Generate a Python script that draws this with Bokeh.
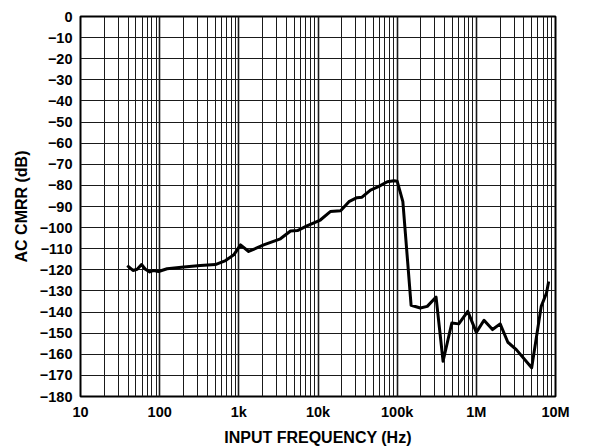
from bokeh.plotting import figure
from bokeh.models import FixedTicker, LogTicker, Range1d
from bokeh.embed import file_html
from bokeh.resources import INLINE

freq = [39, 46, 52, 59, 66, 75, 84, 97, 124, 202, 327, 505, 680, 863, 1050, 1330,
        2060, 3350, 4500, 5500, 7250, 10700, 14300, 19300, 24600, 31000, 36000,
        46000, 58000, 75000, 91000, 100000, 118000, 150000, 196000, 240000, 310000,
        380000, 490000, 600000, 780000, 1000000, 1250000, 1600000, 2000000,
        2500000, 3200000, 5000000, 6600000, 7700000, 8200000]
cmrr = [-118, -120.3, -119.7, -117.5, -119.7, -121, -120.3, -120.8, -119.5, -118.7,
        -118, -117.5, -115.6, -112.9, -108.2, -111.3, -108.2, -105.3, -101.6, -101.4,
        -99.2, -96.4, -92.4, -92, -87.7, -85.8, -85.6, -82.2, -80.6, -78.3, -77.8,
        -78, -87.7, -136.8, -138.1, -137.3, -132.9, -163.3, -145.2, -145.6, -139.7,
        -149.6, -143.9, -148.3, -145.6, -154.3, -157.8, -166.4, -137.3, -131, -125.5]

x_ticks = [10, 100, 1000, 10000, 100000, 1000000, 10000000]
x_labels = ["10", "100", "1k", "10k", "100k", "1M", "10M"]
y_ticks = list(range(-180, 1, 10))
y_labels = [("\u2212" + str(-v)) if v < 0 else "0" for v in y_ticks]

p = figure(width=592, height=448, x_axis_type="log",
           x_range=Range1d(10, 1e7), y_range=Range1d(-180, 0),
           output_backend="svg", toolbar_location=None,
           min_border_left=80, min_border_right=37, min_border_top=16,
           min_border_bottom=51)

p.line(freq, cmrr, line_color="black", line_width=3, line_join="round")

p.xaxis.ticker = LogTicker(desired_num_ticks=7, num_minor_ticks=10)
p.xaxis.major_label_overrides = {t: l for t, l in zip(x_ticks, x_labels)}
p.yaxis.ticker = FixedTicker(ticks=y_ticks)
p.yaxis.major_label_overrides = {t: l for t, l in zip(y_ticks, y_labels)}

for ax in (p.xaxis[0], p.yaxis[0]):
    ax.major_tick_out = 0
    ax.major_tick_in = 0
    ax.minor_tick_out = 0
    ax.minor_tick_in = 0
    ax.axis_line_color = None
    ax.major_label_text_font = "Liberation Sans"
    ax.major_label_text_font_style = "bold"
    ax.major_label_text_font_size = "14.5px"
    ax.major_label_text_color = "black"
    ax.axis_label_text_font = "Liberation Sans"
    ax.axis_label_text_font_style = "bold"
    ax.axis_label_text_font_size = "16px"
    ax.axis_label_text_color = "black"

p.xaxis.axis_label = "INPUT FREQUENCY (Hz)"
p.yaxis.axis_label = "AC CMRR (dB)"
p.xaxis.major_label_standoff = 7
p.yaxis.major_label_standoff = 8
p.xaxis.axis_label_standoff = 6
p.yaxis.axis_label_standoff = 7

p.xgrid.grid_line_color = "#1a1a1a"
p.xgrid.grid_line_width = 1.6
p.xgrid.minor_grid_line_color = "#1a1a1a"
p.xgrid.minor_grid_line_width = 1
p.ygrid.grid_line_color = "#1a1a1a"
p.ygrid.grid_line_width = 1

p.outline_line_color = "black"
p.outline_line_width = 2
p.background_fill_color = "white"
p.border_fill_color = "white"

open("out.html", "w").write(file_html(p, INLINE))
